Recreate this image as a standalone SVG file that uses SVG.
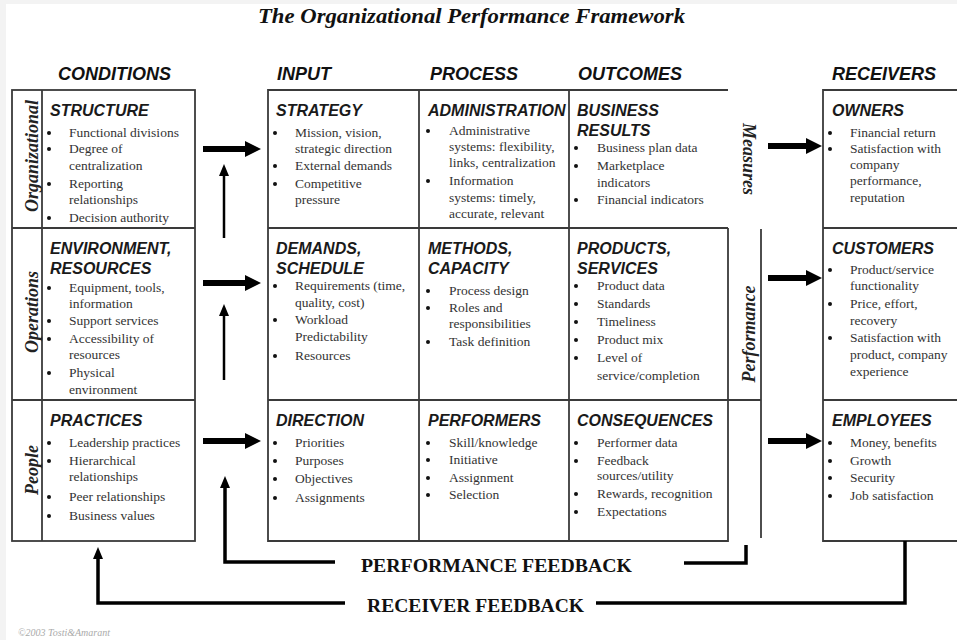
<svg xmlns="http://www.w3.org/2000/svg" width="957" height="640" viewBox="0 0 957 640">
<defs>
<style>
.frame{fill:none;stroke:#3a3a3a;stroke-width:1.8}
.title{font-family:"Liberation Serif",serif;font-weight:bold;font-style:italic;font-size:20px;fill:#111}
.colhead{font-family:"Liberation Sans",Arial,sans-serif;font-weight:bold;font-style:italic;font-size:18px;fill:#111}
.head{font-family:"Liberation Sans",Arial,sans-serif;font-weight:bold;font-style:italic;font-size:16px;fill:#1a1a1a}
.item{font-family:"Liberation Serif",serif;font-size:13.5px;fill:#333}
.side{font-family:"Liberation Serif",serif;font-weight:bold;font-style:italic;font-size:18px;fill:#222}
.fb{font-family:"Liberation Serif",serif;font-weight:bold;font-size:19px;fill:#111}
.copy{font-family:"Liberation Serif",serif;font-style:italic;font-size:10px;fill:#aaa}
.thick{fill:none;stroke:#000;stroke-width:6}
.thin{fill:none;stroke:#000;stroke-width:2.5}
.fbline{fill:none;stroke:#000;stroke-width:3.5}
</style>
<marker id="bighead" markerUnits="userSpaceOnUse" markerWidth="16" markerHeight="16" refX="2" refY="8" orient="auto">
<path d="M0,0 L16,8 L0,16 Z" fill="#000"/>
</marker>
<marker id="smallhead" markerUnits="userSpaceOnUse" markerWidth="12" markerHeight="10" refX="2" refY="5" orient="auto">
<path d="M0,0 L12,5 L0,10 Z" fill="#000"/>
</marker>
<circle id="b" r="2" fill="#111"/>
</defs>
<rect x="0" y="0" width="957" height="640" fill="#f3f3f3"/>
<rect x="6" y="4" width="951" height="636" fill="#fff"/>

<text class="title" x="258" y="23" textLength="427" lengthAdjust="spacingAndGlyphs">The Organizational Performance Framework</text>

<g id="column-headers">
<text class="colhead" x="58" y="80">CONDITIONS</text>
<text class="colhead" x="277" y="80">INPUT</text>
<text class="colhead" x="430" y="80">PROCESS</text>
<text class="colhead" x="578" y="80">OUTCOMES</text>
<text class="colhead" x="832" y="80">RECEIVERS</text>
</g>

<g id="frames">
<rect class="frame" x="12" y="90" width="183" height="451"/>
<line class="frame" x1="42" y1="90" x2="42" y2="541"/>
<line class="frame" x1="12" y1="228" x2="195" y2="228"/>
<line class="frame" x1="12" y1="400" x2="195" y2="400"/>
<path class="frame" d="M728,90 H268 V541 H728 V228"/>
<line class="frame" x1="419" y1="90" x2="419" y2="541"/>
<line class="frame" x1="569" y1="90" x2="569" y2="541"/>
<line class="frame" x1="268" y1="228" x2="728" y2="228"/>
<line class="frame" x1="268" y1="400" x2="761" y2="400"/>
<line class="frame" x1="761" y1="229" x2="761" y2="538"/>
<path class="frame" d="M958,90 H823 V541 H958"/>
<line class="frame" x1="823" y1="228" x2="958" y2="228"/>
<line class="frame" x1="823" y1="400" x2="958" y2="400"/>
</g>

<g id="side-labels">
<text class="side" transform="translate(38,156) rotate(-90)" text-anchor="middle">Organizational</text>
<text class="side" transform="translate(38,312) rotate(-90)" text-anchor="middle">Operations</text>
<text class="side" transform="translate(38,470) rotate(-90)" text-anchor="middle">People</text>
<text class="side" font-size="17" transform="translate(743,159) rotate(90)" text-anchor="middle">Measures</text>
<text class="side" font-size="17" transform="translate(755,334) rotate(-90)" text-anchor="middle">Performance</text>
</g>

<g id="structure">
<text class="head" x="50" y="116">STRUCTURE</text>
<use href="#b" x="49" y="133"/><use href="#b" x="49" y="149"/><use href="#b" x="49" y="184"/><use href="#b" x="49" y="218"/>
<text class="item" x="69" y="137">Functional divisions</text>
<text class="item" x="69" y="153">Degree of</text>
<text class="item" x="69" y="170">centralization</text>
<text class="item" x="69" y="188">Reporting</text>
<text class="item" x="69" y="204">relationships</text>
<text class="item" x="69" y="222">Decision authority</text>
</g>

<g id="environment-resources">
<text class="head" x="50" y="254">ENVIRONMENT,</text>
<text class="head" x="50" y="274">RESOURCES</text>
<use href="#b" x="49" y="288"/><use href="#b" x="49" y="321"/><use href="#b" x="49" y="339"/><use href="#b" x="49" y="373"/>
<text class="item" x="69" y="292">Equipment, tools,</text>
<text class="item" x="69" y="308">information</text>
<text class="item" x="69" y="325">Support services</text>
<text class="item" x="69" y="343">Accessibility of</text>
<text class="item" x="69" y="359">resources</text>
<text class="item" x="69" y="377">Physical</text>
<text class="item" x="69" y="394">environment</text>
</g>

<g id="practices">
<text class="head" x="50" y="426">PRACTICES</text>
<use href="#b" x="49" y="443"/><use href="#b" x="49" y="461"/><use href="#b" x="49" y="497"/><use href="#b" x="49" y="516"/>
<text class="item" x="69" y="447">Leadership practices</text>
<text class="item" x="69" y="465">Hierarchical</text>
<text class="item" x="69" y="481">relationships</text>
<text class="item" x="69" y="501">Peer relationships</text>
<text class="item" x="69" y="520">Business values</text>
</g>

<g id="strategy">
<text class="head" x="276" y="116">STRATEGY</text>
<use href="#b" x="275" y="133"/><use href="#b" x="275" y="166"/><use href="#b" x="275" y="184"/>
<text class="item" x="295" y="137">Mission, vision,</text>
<text class="item" x="295" y="153">strategic direction</text>
<text class="item" x="295" y="170">External demands</text>
<text class="item" x="295" y="188">Competitive</text>
<text class="item" x="295" y="204">pressure</text>
</g>

<g id="administration">
<text class="head" x="428" y="116">ADMINISTRATION</text>
<use href="#b" x="428" y="131"/><use href="#b" x="428" y="181"/>
<text class="item" x="449" y="135">Administrative</text>
<text class="item" x="449" y="151">systems: flexibility,</text>
<text class="item" x="449" y="167">links, centralization</text>
<text class="item" x="449" y="185">Information</text>
<text class="item" x="449" y="202">systems: timely,</text>
<text class="item" x="449" y="218">accurate, relevant</text>
</g>

<g id="business-results">
<text class="head" x="577" y="116">BUSINESS</text>
<text class="head" x="577" y="136">RESULTS</text>
<use href="#b" x="576" y="148"/><use href="#b" x="576" y="166"/><use href="#b" x="576" y="200"/>
<text class="item" x="597" y="152">Business plan data</text>
<text class="item" x="597" y="170">Marketplace</text>
<text class="item" x="597" y="187">indicators</text>
<text class="item" x="597" y="204">Financial indicators</text>
</g>

<g id="demands-schedule">
<text class="head" x="276" y="254">DEMANDS,</text>
<text class="head" x="276" y="274">SCHEDULE</text>
<use href="#b" x="275" y="286"/><use href="#b" x="275" y="320"/><use href="#b" x="275" y="356"/>
<text class="item" x="295" y="290">Requirements (time,</text>
<text class="item" x="295" y="307">quality, cost)</text>
<text class="item" x="295" y="324">Workload</text>
<text class="item" x="295" y="341">Predictability</text>
<text class="item" x="295" y="360">Resources</text>
</g>

<g id="methods-capacity">
<text class="head" x="428" y="254">METHODS,</text>
<text class="head" x="428" y="274">CAPACITY</text>
<use href="#b" x="428" y="291"/><use href="#b" x="428" y="308"/><use href="#b" x="428" y="342"/>
<text class="item" x="449" y="295">Process design</text>
<text class="item" x="449" y="312">Roles and</text>
<text class="item" x="449" y="328">responsibilities</text>
<text class="item" x="449" y="346">Task definition</text>
</g>

<g id="products-services">
<text class="head" x="577" y="254">PRODUCTS,</text>
<text class="head" x="577" y="274">SERVICES</text>
<use href="#b" x="576" y="286"/><use href="#b" x="576" y="304"/><use href="#b" x="576" y="322"/><use href="#b" x="576" y="340"/><use href="#b" x="576" y="358"/>
<text class="item" x="597" y="290">Product data</text>
<text class="item" x="597" y="308">Standards</text>
<text class="item" x="597" y="326">Timeliness</text>
<text class="item" x="597" y="344">Product mix</text>
<text class="item" x="597" y="362">Level of</text>
<text class="item" x="597" y="380">service/completion</text>
</g>

<g id="direction">
<text class="head" x="276" y="426">DIRECTION</text>
<use href="#b" x="275" y="443"/><use href="#b" x="275" y="461"/><use href="#b" x="275" y="479"/><use href="#b" x="275" y="498"/>
<text class="item" x="295" y="447">Priorities</text>
<text class="item" x="295" y="465">Purposes</text>
<text class="item" x="295" y="483">Objectives</text>
<text class="item" x="295" y="502">Assignments</text>
</g>

<g id="performers">
<text class="head" x="428" y="426">PERFORMERS</text>
<use href="#b" x="428" y="443"/><use href="#b" x="428" y="460"/><use href="#b" x="428" y="478"/><use href="#b" x="428" y="495"/>
<text class="item" x="449" y="447">Skill/knowledge</text>
<text class="item" x="449" y="464">Initiative</text>
<text class="item" x="449" y="482">Assignment</text>
<text class="item" x="449" y="499">Selection</text>
</g>

<g id="consequences">
<text class="head" x="577" y="426">CONSEQUENCES</text>
<use href="#b" x="576" y="443"/><use href="#b" x="576" y="461"/><use href="#b" x="576" y="494"/><use href="#b" x="576" y="512"/>
<text class="item" x="597" y="447">Performer data</text>
<text class="item" x="597" y="465">Feedback</text>
<text class="item" x="597" y="480">sources/utility</text>
<text class="item" x="597" y="498">Rewards, recognition</text>
<text class="item" x="597" y="516">Expectations</text>
</g>

<g id="owners">
<text class="head" x="832" y="116">OWNERS</text>
<use href="#b" x="830" y="133"/><use href="#b" x="830" y="149"/>
<text class="item" x="850" y="137">Financial return</text>
<text class="item" x="850" y="153">Satisfaction with</text>
<text class="item" x="850" y="169">company</text>
<text class="item" x="850" y="185">performance,</text>
<text class="item" x="850" y="202">reputation</text>
</g>

<g id="customers">
<text class="head" x="832" y="254">CUSTOMERS</text>
<use href="#b" x="830" y="270"/><use href="#b" x="830" y="304"/><use href="#b" x="830" y="338"/>
<text class="item" x="850" y="274">Product/service</text>
<text class="item" x="850" y="290">functionality</text>
<text class="item" x="850" y="308">Price, effort,</text>
<text class="item" x="850" y="325">recovery</text>
<text class="item" x="850" y="342">Satisfaction with</text>
<text class="item" x="850" y="359">product, company</text>
<text class="item" x="850" y="376">experience</text>
</g>

<g id="employees">
<text class="head" x="832" y="426">EMPLOYEES</text>
<use href="#b" x="830" y="443"/><use href="#b" x="830" y="461"/><use href="#b" x="830" y="478"/><use href="#b" x="830" y="496"/>
<text class="item" x="850" y="447">Money, benefits</text>
<text class="item" x="850" y="465">Growth</text>
<text class="item" x="850" y="482">Security</text>
<text class="item" x="850" y="500">Job satisfaction</text>
</g>

<g id="connectors">
<path class="thick" d="M203,149 H247" marker-end="url(#bighead)"/>
<path class="thick" d="M203,283 H247" marker-end="url(#bighead)"/>
<path class="thick" d="M203,441 H247" marker-end="url(#bighead)"/>
<path class="thick" d="M768,146 H808" marker-end="url(#bighead)"/>
<path class="thick" d="M768,278 H808" marker-end="url(#bighead)"/>
<path class="thick" d="M768,441 H808" marker-end="url(#bighead)"/>
<path class="thin" d="M224,238 V174" marker-end="url(#smallhead)"/>
<path class="thin" d="M224,380 V314" marker-end="url(#smallhead)"/>
<path class="fbline" d="M335,562 H225 V486" marker-end="url(#smallhead)"/>
<path class="fbline" d="M684,563 H746 V545"/>
<path class="fbline" d="M345,603 H98 V557" marker-end="url(#smallhead)"/>
<path class="fbline" d="M596,603 H905 V541"/>
<text class="fb" x="361" y="572" textLength="271" lengthAdjust="spacingAndGlyphs">PERFORMANCE FEEDBACK</text>
<text class="fb" x="367" y="612" textLength="217" lengthAdjust="spacingAndGlyphs">RECEIVER FEEDBACK</text>
</g>

<text class="copy" x="18" y="636">©2003 Tosti&amp;Amarant</text>
</svg>
